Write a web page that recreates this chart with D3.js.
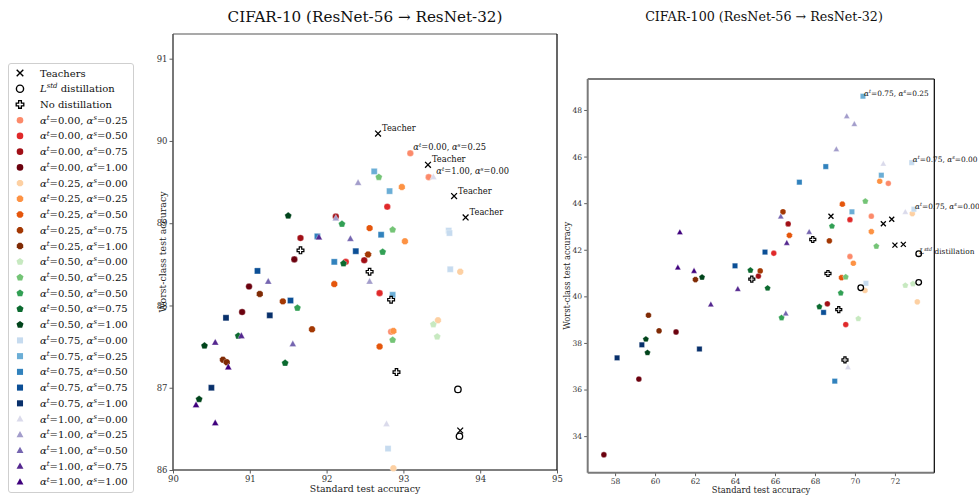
<!DOCTYPE html>
<html><head><meta charset="utf-8">
<script src="https://cdn.jsdelivr.net/npm/d3@7"></script>
<style>body{margin:0;background:#fff} svg{display:block} text{font-family:"DejaVu Serif",serif}</style>
</head><body><svg id="c" width="979" height="498"></svg>
<script>
// ---------- data ----------
const groupT = ["0.00","0.00","0.00","0.00","0.25","0.25","0.25","0.25","0.25","0.50","0.50","0.50","0.50","0.50","0.75","0.75","0.75","0.75","0.75","1.00","1.00","1.00","1.00","1.00"];
const groupS = ["0.25","0.50","0.75","1.00","0.00","0.25","0.50","0.75","1.00","0.00","0.25","0.50","0.75","1.00","0.00","0.25","0.50","0.75","1.00","0.00","0.25","0.50","0.75","1.00"];

const c10Groups = [
 [[93.09,89.85],[93.33,89.56],[92.84,87.68]],
 [[92.79,89.20],[92.25,88.53],[92.69,88.15]],
 [[92.12,89.08],[91.66,88.82],[92.49,88.55]],
 [[91.58,88.56],[90.99,88.23],[90.90,87.92]],
 [[93.74,88.41],[93.45,87.82],[92.87,86.02]],
 [[92.98,89.44],[93.02,88.78],[92.87,87.69]],
 [[92.56,88.94],[92.10,88.26],[92.69,87.50]],
 [[92.54,88.62],[91.43,88.05],[91.81,87.71]],
 [[91.13,88.14],[90.65,87.34],[90.70,87.31]],
 [[93.39,87.77],[93.44,87.62]],
 [[92.68,89.56],[92.86,88.92],[92.86,87.58]],
 [[92.20,88.99],[92.73,88.65],[91.62,87.97]],
 [[92.22,88.51],[90.85,87.63],[91.46,87.30]],
 [[91.50,89.09],[90.41,87.51],[90.34,86.86]],
 [[93.59,88.91],[93.60,88.88],[93.61,88.44],[92.80,86.26]],
 [[92.62,89.63],[92.82,89.39],[92.86,88.13]],
 [[91.88,88.84],[92.71,88.86],[92.10,88.53]],
 [[92.38,88.66],[91.53,88.06],[91.10,88.42]],
 [[90.69,87.85],[91.26,87.88],[90.50,87.00]],
 [[93.39,89.56],[92.78,86.56]],
 [[92.41,89.49],[92.12,89.06],[92.56,88.29]],
 [[92.31,88.81],[91.24,88.29],[91.56,87.53]],
 [[91.90,88.83],[90.89,87.63],[90.55,87.55]],
 [[90.72,87.25],[90.30,86.79],[90.55,86.57]]
];
const c10Teachers = [[92.67,90.09],[93.32,89.71],[93.66,89.33],[93.81,89.07],[93.74,86.48]];
const c10Lstd = [[93.71,86.98],[93.73,86.41]];
const c10NoDist = [[91.66,88.67],[92.56,88.41],[92.84,88.07],[92.91,87.19]];

const c100Groups = [
 [[71.67,44.85],[70.82,43.44],[69.75,41.71]],
 [[69.75,43.29],[65.94,41.85],[69.54,38.79]],
 [[66.66,43.11],[65.17,40.87],[68.62,39.68]],
 [[61.05,38.47],[59.19,36.45],[57.44,33.20]],
 [[72.87,43.55],[70.50,40.25],[73.12,39.76]],
 [[71.24,44.94],[70.82,42.78],[69.92,41.42]],
 [[69.37,43.96],[66.72,42.62],[69.33,40.80]],
 [[66.40,43.63],[68.72,42.38],[65.26,41.09]],
 [[62.02,40.72],[59.67,39.19],[60.20,38.52]],
 [[72.52,40.47],[72.90,40.54],[70.17,39.04]],
 [[70.52,44.08],[71.07,42.15],[69.54,40.83]],
 [[68.85,43.01],[69.29,40.14],[66.33,39.08]],
 [[65.63,40.35],[68.22,39.55],[64.77,41.12]],
 [[62.35,40.82],[59.54,38.16],[59.62,37.58]],
 [[72.84,45.74],[72.95,43.74],[70.55,40.56]],
 [[70.40,48.59],[71.32,45.20],[69.85,43.63]],
 [[68.54,45.57],[67.22,44.90],[68.99,36.36]],
 [[65.50,41.90],[68.43,39.31],[64.00,41.31]],
 [[59.34,37.92],[62.22,37.74],[58.10,37.36]],
 [[71.42,45.69],[72.52,43.62],[69.65,36.95]],
 [[69.59,47.73],[69.97,47.39],[69.07,46.31]],
 [[66.29,43.42],[67.71,42.76],[66.54,39.26]],
 [[66.59,42.29],[64.14,40.31],[62.79,39.65]],
 [[61.24,42.75],[61.14,41.23],[61.95,41.09]]
];
const c100Teachers = [[68.80,43.44],[71.42,43.12],[71.84,43.31],[72.00,42.20],[72.42,42.23]];
const c100Lstd = [[73.19,41.83],[70.29,40.37],[73.19,40.60]];
const c100NoDist = [[67.89,42.44],[64.84,40.74],[68.65,40.98],[69.19,39.43],[69.50,37.27]];

const c10XTicks = [90,91,92,93,94,95];
const c10YTicks = [86,87,88,89,90,91];
const c100XTicks = [58,60,62,64,66,68,70,72];
const c100YTicks = [34,36,38,40,42,44,46,48];
const titles = ["CIFAR-10 (ResNet-56 \u2192 ResNet-32)", "CIFAR-100 (ResNet-56 \u2192 ResNet-32)"];

// ---------- styles ----------
const groupColors = ["#fc8a6a","#e0292a","#a10f16","#6b010e",
 "#fdd0a2","#fd9243","#e5560c","#a33803","#7f2a04",
 "#c7e9c0","#74c476","#32a055","#0b6a2f","#00441b",
 "#c6dbef","#6baed6","#3182bd","#0b4f96","#08306b",
 "#dadaeb","#a39dcb","#7565b0","#54278f","#3f007d"];
const shapeForT = {"0.00":"circle","0.25":"octagon","0.50":"pentagon","0.75":"square","1.00":"triangle"};

const svg = d3.select("#c");

function polyPath(n, r, rot){
  const pts=[];
  for(let i=0;i<n;i++){const a=rot+i*2*Math.PI/n; pts.push([r*Math.cos(a), r*Math.sin(a)]);}
  return "M"+pts.map(p=>p[0].toFixed(2)+","+p[1].toFixed(2)).join("L")+"Z";
}
function shapePath(type, r){
  if(type==="circle") return d3.symbol(d3.symbolCircle, Math.PI*r*r)();
  if(type==="octagon") return polyPath(8, r*1.06, Math.PI/8);
  if(type==="pentagon") return polyPath(5, r*1.12, -Math.PI/2);
  if(type==="square"){const h=r*0.92; return `M${-h},${-h}L${h},${-h}L${h},${h}L${-h},${h}Z`;}
  if(type==="triangle"){return `M0,${-r*1.15}L${r*1.05},${r*0.75}L${-r*1.05},${r*0.75}Z`;}
}
function plusPath(e){const w=e*0.36; return `M${-w},${-e}L${w},${-e}L${w},${-w}L${e},${-w}L${e},${w}L${w},${w}L${w},${e}L${-w},${e}L${-w},${w}L${-e},${w}L${-e},${-w}L${-w},${-w}Z`;}

function drawX(g, x, y, s, sw){
  g.append("path").attr("d",`M${x-s},${y-s}L${x+s},${y+s}M${x-s},${y+s}L${x+s},${y-s}`).attr("stroke","#000").attr("stroke-width",sw).attr("fill","none");
}
function drawO(g, x, y, r, sw){
  g.append("circle").attr("cx",x).attr("cy",y).attr("r",r).attr("fill","none").attr("stroke","#000").attr("stroke-width",sw);
}
function drawP(g, x, y, e, sw){
  g.append("path").attr("d",plusPath(e)).attr("transform",`translate(${x},${y})`).attr("fill","#fff").attr("stroke","#000").attr("stroke-width",sw).attr("stroke-linejoin","miter");
}
function alphaText(g, x, y, t, s, size){
  const txt = g.append("text").attr("x",x).attr("y",y).attr("font-size",size).attr("fill","#111");
  txt.append("tspan").attr("font-style","italic").text("\u03b1");
  txt.append("tspan").attr("font-style","italic").attr("font-size",size*0.7).attr("dy",-size*0.38).text("t");
  txt.append("tspan").attr("dy",size*0.38).text("="+t+", ");
  txt.append("tspan").attr("font-style","italic").text("\u03b1");
  txt.append("tspan").attr("font-style","italic").attr("font-size",size*0.7).attr("dy",-size*0.38).text("s");
  txt.append("tspan").attr("dy",size*0.38).text("="+s);
  return txt;
}
function lstdText(g, x, y, size, rest){
  const txt = g.append("text").attr("x",x).attr("y",y).attr("font-size",size).attr("fill","#111");
  txt.append("tspan").attr("font-style","italic").text("L");
  txt.append("tspan").attr("font-style","italic").attr("font-size",size*0.7).attr("dy",-size*0.4).text("std");
  txt.append("tspan").attr("dy",size*0.4).text(rest);
  return txt;
}

function panel(cfg){
  const g = svg.append("g");
  const x = d3.scaleLinear().domain(cfg.xd).range([cfg.L, cfg.R]);
  const y = d3.scaleLinear().domain(cfg.yd).range([cfg.B, cfg.T]);
  const ax = g.append("g").attr("transform",`translate(0,${cfg.B})`)
    .call(d3.axisBottom(x).tickValues(cfg.xt).tickFormat(d3.format("d")).tickSize(3.5).tickPadding(2));
  const ay = g.append("g").attr("transform",`translate(${cfg.L},0)`)
    .call(d3.axisLeft(y).tickValues(cfg.yt).tickFormat(d3.format("d")).tickSize(3.5).tickPadding(2));
  [ax,ay].forEach(a=>{
    a.select(".domain").remove();
    a.selectAll("text").attr("font-family","DejaVu Serif").attr("font-size",cfg.tickFs).attr("fill","#333");
    a.selectAll("line").attr("stroke","#333").attr("stroke-width",0.8);
  });
  g.append("line").attr("x1",cfg.L).attr("x2",cfg.R).attr("y1",cfg.T).attr("y2",cfg.T).attr("stroke",cfg.topCol).attr("stroke-width",cfg.spW);
  g.append("line").attr("x1",cfg.L).attr("x2",cfg.L).attr("y1",cfg.T).attr("y2",cfg.B).attr("stroke",cfg.sideCol).attr("stroke-width",cfg.spW);
  g.append("line").attr("x1",cfg.L).attr("x2",cfg.R).attr("y1",cfg.B).attr("y2",cfg.B).attr("stroke",cfg.sideCol).attr("stroke-width",cfg.spW);
  g.append("line").attr("x1",cfg.R).attr("x2",cfg.R).attr("y1",cfg.T).attr("y2",cfg.B).attr("stroke","#000").attr("stroke-width",1.2);
  g.append("text").attr("x",cfg.titleX).attr("y",cfg.titleY).attr("text-anchor","middle").attr("font-size",cfg.titleFs).attr("fill","#111").text(cfg.title);
  g.append("text").attr("x",(cfg.L+cfg.R)/2).attr("y",cfg.xlabY).attr("text-anchor","middle").attr("font-size",cfg.labFs).attr("fill","#222").text("Standard test accuracy");
  g.append("text").attr("transform",`translate(${cfg.ylabX},${(cfg.T+cfg.B)/2}) rotate(-90)`).attr("text-anchor","middle").attr("font-size",cfg.labFs).attr("fill","#222").text("Worst-class test accuracy");
  cfg.groups.forEach((pts,gi)=>{
    const sh = shapeForT[groupT[gi]];
    pts.forEach(p=>{
      g.append("path").attr("d",shapePath(sh,cfg.mr)).attr("transform",`translate(${x(p[0])},${y(p[1])})`)
        .attr("fill",groupColors[gi]).attr("stroke","#fff").attr("stroke-width",0.4).attr("stroke-opacity",0.8);
    });
  });
  cfg.teachers.forEach(p=>drawX(g,x(p[0]),y(p[1]),cfg.xs,1.3));
  cfg.lstd.forEach(p=>drawO(g,x(p[0]),y(p[1]),cfg.or,1.3));
  cfg.nodist.forEach(p=>drawP(g,x(p[0]),y(p[1]),cfg.pe,1.2));
  return {g,x,y};
}

const P1 = panel({L:173,R:557,T:34,B:470,xd:[90,95],yd:[86,91.3],xt:c10XTicks,yt:c10YTicks,
  tickFs:8.5,title:titles[0],titleX:365,titleY:22,titleFs:15.2,labFs:9.4,xlabY:491.5,ylabX:166,
  topCol:"#8c8c8c",sideCol:"#555",spW:1.6,groups:c10Groups,teachers:c10Teachers,lstd:c10Lstd,nodist:c10NoDist,
  mr:3.3,xs:2.9,or:3.2,pe:3.4});
c10Teachers.slice(0,4).forEach(p=>{
  P1.g.append("text").attr("x",P1.x(p[0])+4).attr("y",P1.y(p[1])-2.5).attr("font-size",8.3).attr("fill","#111").text("Teacher");
});
alphaText(P1.g, P1.x(c10Groups[0][0][0])+3, P1.y(c10Groups[0][0][1])-3, groupT[0], groupS[0], 8.3);
alphaText(P1.g, P1.x(c10Groups[19][0][0])+3, P1.y(c10Groups[19][0][1])-3, groupT[19], groupS[19], 8.3);

const P2 = panel({L:587.7,R:934.3,T:79,B:472.7,xd:[56.63,73.97],yd:[32.43,49.33],xt:c100XTicks,yt:c100YTicks,
  tickFs:7.6,title:titles[1],titleX:764,titleY:21,titleFs:12.7,labFs:8.4,xlabY:492.5,ylabX:570,
  topCol:"#7a7a7a",sideCol:"#7a7a7a",spW:2,groups:c100Groups,teachers:c100Teachers,lstd:c100Lstd,nodist:c100NoDist,
  mr:2.9,xs:2.5,or:2.8,pe:3.0});
alphaText(P2.g, P2.x(c100Groups[15][0][0])+1, P2.y(c100Groups[15][0][1])-0.5, groupT[15], groupS[15], 7.4);
alphaText(P2.g, P2.x(c100Groups[14][0][0])+1, P2.y(c100Groups[14][0][1])-0.5, groupT[14], groupS[14], 7.4);
alphaText(P2.g, P2.x(c100Groups[14][1][0])+1, P2.y(c100Groups[14][1][1])-0.5, groupT[14], groupS[14], 7.4);
lstdText(P2.g, P2.x(c100Lstd[0][0])+0.5, P2.y(c100Lstd[0][1])+0.5, 7.4, " distillation");

// legend
const lg = svg.append("g");
lg.append("rect").attr("x",8.5).attr("y",63.5).attr("width",125).attr("height",429).attr("rx",2.5)
  .attr("fill","#fff").attr("stroke","#cfcfcf").attr("stroke-width",1);
const ly0 = 73, ldy = 15.73, lmx = 20, ltx = 40, lfs = 10;
drawX(lg, lmx, ly0, 3.3, 1.4);
lg.append("text").attr("x",ltx).attr("y",ly0+3.5).attr("font-size",lfs).attr("fill","#111").text("Teachers");
drawO(lg, lmx, ly0+ldy, 3.6, 1.4);
lstdText(lg, ltx, ly0+ldy+3.5, lfs, " distillation");
drawP(lg, lmx, ly0+2*ldy, 3.8, 1.3);
lg.append("text").attr("x",ltx).attr("y",ly0+2*ldy+3.5).attr("font-size",lfs).attr("fill","#111").text("No distillation");
groupT.forEach((t,i)=>{
  const yy = ly0+(i+3)*ldy;
  lg.append("path").attr("d",shapePath(shapeForT[t],3.3)).attr("transform",`translate(${lmx},${yy})`).attr("fill",groupColors[i]);
  alphaText(lg, ltx, yy+3.5, t, groupS[i], lfs);
});
</script></body></html>
